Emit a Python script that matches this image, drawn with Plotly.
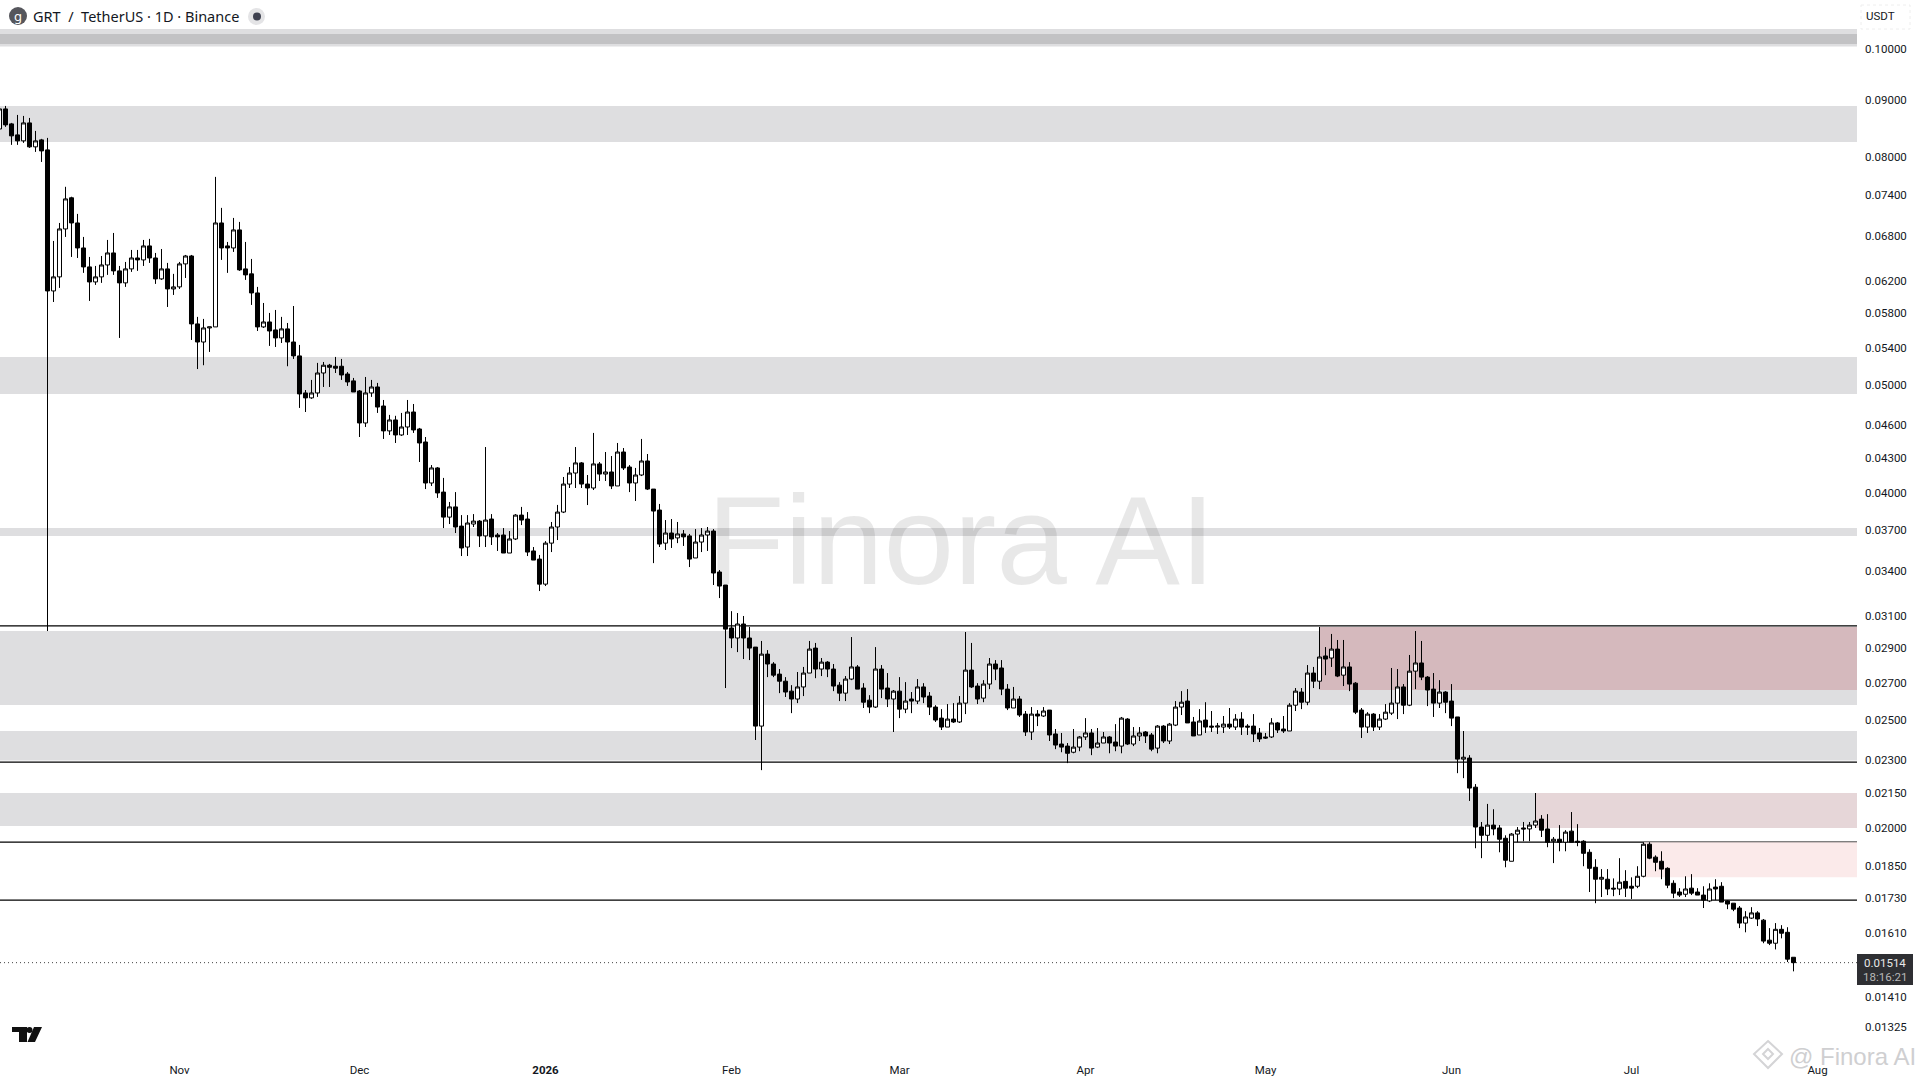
import plotly.graph_objects as go
import pandas as pd

# data (GRT/USDT daily, log scale)
dates = pd.date_range("2025-10-02", periods=300, freq="D")

candle_colour = (
    "wbbbwbwbbw" "wwbbbbwwwb" "bwwbwbbwbw" "wwbbwwwbbw" "bbbbwbbwbb"
    "bbwwwbbbbb" "bwwbbwbwwb" "bbwbbwbbww" "bwbbbwwbbb" "bwwwwwwbbw"
    "bwbwbbwwbb" "bwbwbbwwwb" "bbbwbbbwbb" "bbbwwwbwbb" "bwwbbbwbbw"
    "bwbwbbbbwb" "wwbbwwbbbw" "bbwbwbbbbw" "wwbwwbbwbw" "wbbwbwwwbb"
    "wbbwwbwbbb" "bbwbbwwbwb" "wbwbwbbbwb" "wwwwbwwbbb" "wbbbwbbbwb"
    "bbwwbwwbbw" "bwbbbbbwbb" "wbbwwbbbbb" "bwbbbwbbbb" "bwwbbbwbbb"
)

body_top = [
    .08843, .08843, .08574, .08381, .08591, .08591, .08278, .08295, .08125, .06249,
    .06900, .07342, .07359, .06986, .06634, .06379, .06249, .06405, .06566, .06566,
    .06327, .06353, .06498, .06498, .06662, .06662, .06498, .06353, .06353, .06121,
    .06419, .06525, .06525, .05670, .05623, .05635, .06986, .06986, .06662, .06886,
    .06886, .06353, .06288, .06045, .05693, .05693, .05600, .05612, .05612, .05462,
    .05307, .04916, .04916, .05123, .05206, .05206, .05195, .05195, .05112, .05040,
    .04936, .04916, .04977, .04977, .04785, .04649, .04649, .04582, .04726, .04726,
    .04563, .04442, .04210, .04210, .04005, .03884, .03884, .03733, .03757, .03772,
    .03772, .03780, .03788, .03665, .03665, .03635, .03819, .03819, .03788, .03546,
    .03487, .03604, .03726, .03843, .04072, .04166, .04254, .04254, .04072, .04245,
    .04245, .04175, .04175, .04351, .04351, .04218, .04149, .04271, .04271, .04030,
    .03859, .03680, .03680, .03673, .03673, .03658, .03612, .03665, .03695, .03695,
    .03395, .03305, .03024, .03049, .03049, .02962, .02907, .02865, .02865, .02807,
    .02749, .02709, .02654, .02677, .02755, .02895, .02901, .02818, .02818, .02778,
    .02687, .02721, .02790, .02790, .02671, .02605, .02778, .02778, .02671, .02654,
    .02654, .02600, .02611, .02677, .02677, .02627, .02568, .02510, .02505, .02505,
    .02589, .02772, .02772, .02682, .02693, .02807, .02807, .02784, .02665, .02611,
    .02611, .02531, .02531, .02531, .02547, .02552, .02429, .02379, .02369, .02364,
    .02414, .02434, .02434, .02384, .02414, .02414, .02389, .02510, .02505, .02419,
    .02434, .02439, .02424, .02469, .02469, .02479, .02568, .02594, .02600, .02490,
    .02495, .02500, .02469, .02469, .02479, .02479, .02505, .02505, .02469, .02469,
    .02434, .02414, .02485, .02485, .02454, .02578, .02654, .02649, .02755, .02755,
    .02848, .02854, .02895, .02895, .02790, .02790, .02698, .02552, .02531, .02531,
    .02505, .02541, .02589, .02677, .02677, .02766, .02813, .02813, .02732, .02665,
    .02649, .02649, .02600, .02516, .02315, .02311, .02176, .02004, .02012, .02012,
    .02000, .01958, .01975, .01991, .02000, .02012, .02029, .02037, .01996, .01954,
    .01954, .01983, .01987, .01946, .01946, .01902, .01844, .01806, .01799, .01766,
    .01788, .01791, .01773, .01810, .01934, .01934, .01883, .01867, .01840, .01784,
    .01752, .01763, .01766, .01752, .01741, .01763, .01770, .01773, .01720, .01712,
    .01695, .01664, .01678, .01678, .01653, .01586, .01622, .01622, .01612, .01531,
]

body_bottom = [
    .08484, .08556, .08364, .08278, .08278, .08176, .08176, .08108, .06070, .06070,
    .06249, .06900, .06986, .06634, .06379, .06184, .06184, .06249, .06405, .06327,
    .06172, .06172, .06353, .06472, .06472, .06498, .06223, .06223, .06095, .06095,
    .06121, .06419, .05670, .05462, .05462, .05623, .05635, .06634, .06634, .06634,
    .06340, .06275, .06045, .05635, .05635, .05588, .05508, .05508, .05462, .05307,
    .04906, .04866, .04866, .04916, .05123, .05184, .05174, .05102, .05029, .04926,
    .04620, .04620, .04916, .04775, .04545, .04545, .04507, .04507, .04582, .04554,
    .04433, .04081, .04081, .03998, .03803, .03803, .03726, .03568, .03575, .03749,
    .03658, .03658, .03651, .03651, .03531, .03531, .03635, .03780, .03538, .03480,
    .03311, .03311, .03604, .03726, .03843, .04072, .04166, .04072, .04039, .04039,
    .04157, .04157, .04056, .04056, .04210, .04081, .04081, .04149, .04030, .03851,
    .03597, .03604, .03635, .03643, .03651, .03487, .03495, .03612, .03665, .03388,
    .03298, .03017, .02962, .02962, .02962, .02901, .02469, .02469, .02807, .02743,
    .02709, .02649, .02611, .02611, .02677, .02755, .02778, .02778, .02778, .02682,
    .02643, .02643, .02721, .02665, .02594, .02568, .02568, .02665, .02611, .02611,
    .02557, .02557, .02600, .02600, .02622, .02568, .02500, .02464, .02464, .02490,
    .02490, .02589, .02677, .02611, .02616, .02693, .02778, .02665, .02563, .02563,
    .02526, .02439, .02439, .02521, .02521, .02424, .02374, .02364, .02334, .02339,
    .02364, .02414, .02359, .02364, .02384, .02384, .02369, .02369, .02379, .02379,
    .02419, .02419, .02354, .02359, .02394, .02394, .02474, .02568, .02485, .02419,
    .02424, .02464, .02464, .02464, .02464, .02464, .02464, .02464, .02464, .02429,
    .02404, .02409, .02414, .02449, .02444, .02444, .02578, .02594, .02594, .02709,
    .02709, .02836, .02842, .02738, .02743, .02693, .02541, .02464, .02464, .02464,
    .02464, .02505, .02536, .02589, .02578, .02578, .02766, .02732, .02660, .02589,
    .02589, .02594, .02510, .02306, .02306, .02172, .02004, .01970, .01970, .01996,
    .01954, .01871, .01867, .01975, .01996, .01996, .02012, .01991, .01942, .01946,
    .01942, .01942, .01942, .01942, .01898, .01840, .01799, .01799, .01763, .01763,
    .01763, .01766, .01766, .01773, .01810, .01879, .01863, .01837, .01777, .01748,
    .01741, .01744, .01748, .01741, .01723, .01720, .01763, .01716, .01709, .01691,
    .01643, .01643, .01660, .01657, .01583, .01576, .01576, .01609, .01525, .01514,
]

high = [
    .08861, .08898, .08591, .08734, .08716, .08680, .08450, .08312, .08329, .06731,
    .06986, .07528, .07375, .07118, .06787, .06512, .06392, .06525, .06745, .06843,
    .06392, .06445, .06607, .06607, .06745, .06760, .06566, .06620, .06432, .06288,
    .06445, .06539, .06539, .05753, .05729, .05635, .07684, .07207, .06717, .07059,
    .07001, .06717, .06485, .06121, .05921, .05800, .05836, .05753, .05681, .05884,
    .05429, .04946, .05050, .05231, .05241, .05220, .05296, .05274, .05133, .05071,
    .04946, .05081, .05050, .05019, .04845, .04698, .04689, .04717, .04845, .04805,
    .04573, .04488, .04235, .04218, .04124, .03924, .04005, .03819, .03819, .03827,
    .03780, .04396, .03827, .03680, .03718, .03695, .03827, .03884, .03843, .03575,
    .03517, .03619, .03765, .03900, .04132, .04218, .04396, .04262, .04149, .04526,
    .04262, .04351, .04315, .04433, .04387, .04235, .04210, .04470, .04333, .04030,
    .03908, .03780, .03788, .03765, .03703, .03673, .03710, .03718, .03726, .03710,
    .03409, .03305, .03131, .03119, .03100, .03030, .02907, .02944, .02889, .02818,
    .02778, .02732, .02687, .02761, .02790, .02944, .02932, .02842, .02824, .02807,
    .02704, .02738, .02968, .02801, .02698, .02632, .02907, .02801, .02755, .02660,
    .02732, .02704, .02649, .02721, .02698, .02649, .02578, .02557, .02584, .02589,
    .02627, .02999, .02932, .02698, .02715, .02842, .02830, .02830, .02693, .02677,
    .02627, .02547, .02568, .02552, .02568, .02552, .02454, .02434, .02384, .02454,
    .02419, .02510, .02454, .02459, .02439, .02419, .02479, .02516, .02510, .02464,
    .02464, .02444, .02434, .02474, .02474, .02485, .02600, .02654, .02665, .02516,
    .02557, .02594, .02547, .02485, .02521, .02563, .02531, .02541, .02479, .02531,
    .02459, .02434, .02510, .02490, .02521, .02589, .02671, .02671, .02801, .02790,
    .03030, .02907, .02987, .02950, .02950, .02818, .02704, .02563, .02541, .02536,
    .02531, .02584, .02784, .02778, .02693, .02860, .03005, .02944, .02738, .02755,
    .02715, .02654, .02693, .02516, .02444, .02325, .02190, .02025, .02102, .02079,
    .02012, .01970, .01979, .02004, .02025, .02025, .02150, .02054, .02058, .01963,
    .02012, .01991, .02067, .02016, .01950, .01914, .01875, .01837, .01837, .01802,
    .01879, .01833, .01806, .01848, .01942, .01942, .01890, .01906, .01844, .01795,
    .01766, .01810, .01818, .01766, .01773, .01784, .01799, .01788, .01723, .01712,
    .01702, .01684, .01698, .01684, .01657, .01626, .01643, .01636, .01629, .01531,
]

low = [
    .08468, .08521, .08210, .08210, .08244, .08159, .08091, .07925, .03005, .05933,
    .06108, .06787, .06512, .06498, .06301, .05946, .06146, .06172, .06275, .06275,
    .05508, .06121, .06314, .06327, .06392, .06432, .06159, .06210, .05872, .06020,
    .06095, .06235, .05485, .05165, .05206, .05351, .05635, .06472, .06301, .06580,
    .06327, .06210, .05897, .05588, .05623, .05418, .05406, .05451, .05195, .05274,
    .04766, .04726, .04856, .04876, .04977, .04977, .05123, .05050, .04988, .04926,
    .04488, .04582, .04876, .04717, .04470, .04507, .04433, .04498, .04507, .04526,
    .04262, .04030, .04056, .03957, .03718, .03749, .03680, .03509, .03509, .03726,
    .03575, .03575, .03590, .03546, .03531, .03531, .03627, .03741, .03509, .03480,
    .03264, .03298, .03538, .03627, .03835, .04039, .04039, .04039, .03899, .04022,
    .04098, .04098, .04030, .04056, .04192, .04005, .03932, .04140, .04022, .03458,
    .03575, .03553, .03568, .03604, .03583, .03430, .03495, .03538, .03546, .03305,
    .03217, .02671, .02901, .02877, .02836, .02830, .02399, .02254, .02732, .02732,
    .02643, .02622, .02536, .02589, .02627, .02755, .02726, .02738, .02732, .02654,
    .02600, .02600, .02715, .02665, .02563, .02536, .02563, .02616, .02568, .02439,
    .02510, .02536, .02536, .02584, .02589, .02526, .02490, .02449, .02464, .02485,
    .02485, .02531, .02671, .02584, .02594, .02665, .02715, .02632, .02552, .02563,
    .02516, .02419, .02399, .02469, .02516, .02394, .02354, .02339, .02287, .02334,
    .02344, .02399, .02325, .02359, .02384, .02334, .02344, .02334, .02374, .02369,
    .02394, .02384, .02344, .02334, .02384, .02379, .02469, .02526, .02485, .02419,
    .02424, .02434, .02439, .02429, .02434, .02454, .02449, .02424, .02424, .02389,
    .02389, .02404, .02409, .02434, .02434, .02444, .02547, .02557, .02578, .02671,
    .02665, .02743, .02790, .02732, .02682, .02654, .02531, .02409, .02434, .02444,
    .02449, .02500, .02526, .02505, .02531, .02573, .02665, .02715, .02573, .02516,
    .02563, .02536, .02469, .02240, .02217, .02115, .01918, .01879, .01946, .01970,
    .01902, .01844, .01867, .01942, .01946, .01946, .02000, .01963, .01922, .01860,
    .01906, .01906, .01942, .01926, .01848, .01752, .01712, .01734, .01741, .01737,
    .01741, .01734, .01727, .01766, .01806, .01875, .01829, .01799, .01766, .01730,
    .01734, .01734, .01741, .01741, .01695, .01716, .01723, .01716, .01691, .01684,
    .01626, .01612, .01657, .01633, .01576, .01570, .01556, .01592, .01516, .01487,
]

last_price = 0.01514

# grey zones and lines are price levels
band_low = [.10062, .08258, .04906, .03657, .02579, .02299, .02008]
band_high = [.10433, .08897, .05295, .03718, .03005, .02444, .02150]
inner_band = (.10114, .10326)
level_lines = [.03037, .02292, .01942, .01723]

# red zones: start day, low, high, colour
zone_start = ["2026-05-10", "2026-06-15", "2026-07-03"]
zone_low = [.02660, .02000, .01806]
zone_high = [.03030, .02150, .01942]
zone_colour = ["#D5B9BD", "#E6D6D8", "#FBEAEA"]

price_ticks = [
    .10, .09, .08, .074, .068, .062, .058, .054, .05, .046, .043, .04, .037, .034,
    .031, .029, .027, .025, .023, .0215, .02, .0185, .0173, .0161, .0141, .01325,
]
month_ticks = ["2025-11-01", "2025-12-01", "2026-01-01", "2026-02-01", "2026-03-01",
               "2026-04-01", "2026-05-01", "2026-06-01", "2026-07-01", "2026-08-01"]
month_labels = ["Nov", "Dec", "<b>2026</b>", "Feb", "Mar", "Apr", "May", "Jun", "Jul", "Aug"]

opens = [b if c == "w" else t for t, b, c in zip(body_top, body_bottom, candle_colour)]
closes = [t if c == "w" else b for t, b, c in zip(body_top, body_bottom, candle_colour)]
x_end = "2026-08-07 14:00"
FONT = "Noto Sans"
AXIS_FONT = "Roboto"
INK = "#131722"

fig = go.Figure(
    go.Candlestick(
        x=dates, open=opens, high=high, low=low, close=closes,
        increasing=dict(line=dict(color="black", width=1), fillcolor="white"),
        decreasing=dict(line=dict(color="black", width=1), fillcolor="black"),
        whiskerwidth=0, showlegend=False, hoverinfo="skip",
    )
)

PLOT_W, PLOT_H = 1857, 1050


# page pixels to paper coordinates, for the decoration only
def px(x):
    return x / PLOT_W


def py(y):
    return 1 - y / PLOT_H


def paper_rect(x0, y0, x1, y1, colour, kind="rect", line=None):
    fig.add_shape(type=kind, xref="paper", yref="paper", x0=px(x0), x1=px(x1), y0=py(y0), y1=py(y1),
                  fillcolor=colour, line=line or dict(width=0), layer="above")


def text(x, y, s, size=12, colour=INK, anchor="left", family=FONT):
    fig.add_annotation(xref="paper", yref="paper", x=px(x), y=py(y), text=s, showarrow=False,
                       xanchor=anchor, yanchor="middle", font=dict(family=family, size=size, color=colour))


for lo, hi in zip(band_low, band_high):
    fig.add_hrect(y0=lo, y1=hi, fillcolor="#DEDEE0", line_width=0, layer="below")
fig.add_hrect(y0=inner_band[0], y1=inner_band[1], fillcolor="#C2C2C4", line_width=0, layer="below")
for start, lo, hi, colour in zip(zone_start, zone_low, zone_high, zone_colour):
    fig.add_shape(type="rect", x0=start, x1=x_end, y0=lo, y1=hi, fillcolor=colour, line_width=0, layer="below")
for level in level_lines:
    fig.add_hline(y=level, line=dict(color="black", width=1.2), layer="below")
fig.add_hline(y=last_price, line=dict(color="#444444", width=1, dash="1px,3px"), layer="below")

# header
paper_rect(9, 7, 27, 25, "#55565C", "circle")
text(18, 16, "g", size=13, colour="white", anchor="center")
text(31, 16, "GRT  /  TetherUS · 1D · Binance", size=14.5)
paper_rect(248, 8, 265, 25, "#E4E4E6", "circle")
paper_rect(253, 12.5, 261, 20.5, "#3F4250", "circle")

# USDT box
fig.add_shape(type="rect", xref="paper", yref="paper", x0=px(1861), x1=px(1910), y0=py(5), y1=py(29),
              fillcolor="white", line=dict(color="#EEEEEE", width=1, dash="dot"), layer="above")
text(1864, 16, "USDT", size=11.5, family=AXIS_FONT)

# last price tag
paper_rect(1857, 954, 1913, 985, "#2E2F33")
text(1885, 963, "0.01514", size=11.5, colour="#E8E8E8", anchor="center", family=AXIS_FONT)
text(1885, 977, "18:16:21", size=11.5, colour="#B8B8B8", anchor="center", family=AXIS_FONT)

# TradingView mark
paper_rect(12, 1027, 27, 1032, "#111111")
paper_rect(19, 1027, 27, 1042, "#111111")
paper_rect(26.5, 1027, 32.5, 1033, "#111111", "circle")
fig.add_shape(type="path", xref="paper", yref="paper", fillcolor="#111111", line_width=0, layer="above",
              path=f"M {px(34)} {py(1027)} L {px(42)} {py(1027)} L {px(35)} {py(1042)} L {px(27.5)} {py(1042)} Z")

# watermarks
text(961, 540, "Finora AI", size=127, colour="rgba(0,0,0,0.09)", anchor="center", family="Liberation Sans")
text(1787, 1056, "@ Finora AI", size=24, colour="#CFCFD1", family="Liberation Sans")
fig.add_shape(type="path", xref="paper", yref="paper", line=dict(color="#D4D4D6", width=2), layer="above",
              path=f"M {px(1768)} {py(1041)} L {px(1782)} {py(1054)} L {px(1768)} {py(1068)} "
                   f"L {px(1754)} {py(1054)} Z M {px(1768)} {py(1049)} L {px(1773)} {py(1054)} "
                   f"L {px(1768)} {py(1059)} L {px(1763)} {py(1054)} Z")

fig.update_layout(
    width=1920, height=1080, margin=dict(l=0, r=63, t=0, b=30),
    paper_bgcolor="white", plot_bgcolor="white", showlegend=False,
    font=dict(family=AXIS_FONT, size=12, color=INK), boxgap=0.33, boxgroupgap=0,
)
fig.update_xaxes(
    range=["2025-10-02 02:00", x_end], rangeslider_visible=False, showgrid=False, zeroline=False,
    showline=False, ticks="", tickvals=month_ticks, ticktext=month_labels, tickfont=dict(size=11.5),
    ticklabelstandoff=11,
)
fig.update_yaxes(
    type="log", range=[-1.8983, -0.9556], side="right", showgrid=False, zeroline=False, showline=False,
    ticks="", tickvals=price_ticks, ticktext=[f"{p:.5f}" for p in price_ticks], tickfont=dict(size=11.5),
    ticklabelstandoff=7,
)

fig.write_html("out.html", config=dict(displayModeBar=False), post_script="document.body.style.margin='0';")
